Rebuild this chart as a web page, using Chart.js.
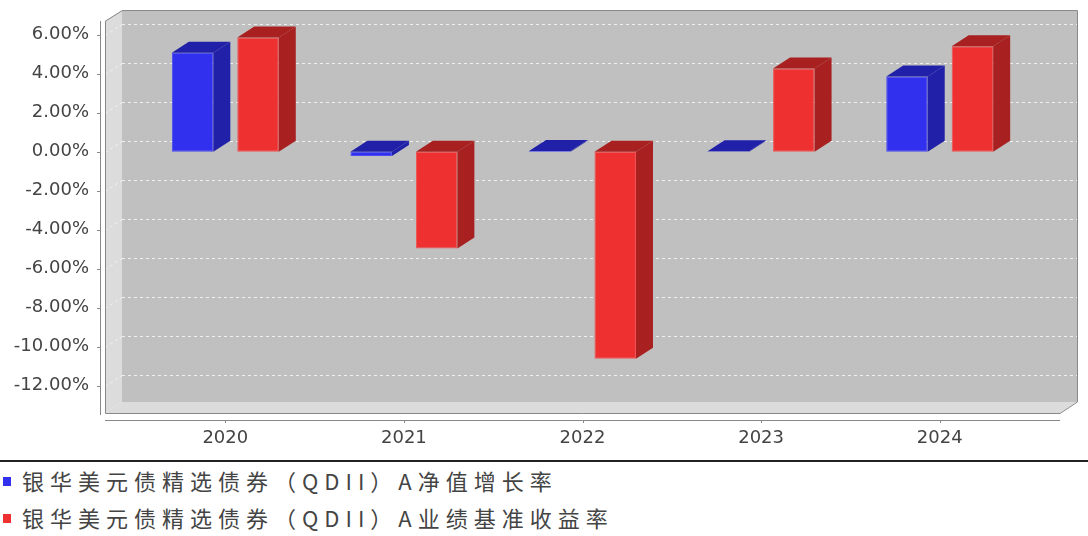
<!DOCTYPE html>
<html>
<head>
<meta charset="utf-8">
<script src="https://cdn.jsdelivr.net/npm/chart.js@4.4.1/dist/chart.umd.min.js"></script>
<style>
  body { margin: 0; background: #fff; width: 1088px; height: 536px; overflow: hidden; }
  #legend { border-top: 2px solid #222; font-family: "Noto Sans CJK SC", sans-serif; font-size: 22px; letter-spacing: 6px; color: #444; }
  .item { position: relative; height: 37px; line-height: 36px; padding-left: 22px; white-space: nowrap; }
  .item span { position: absolute; left: 3px; top: 15px; width: 8px; height: 9px; }
</style>
</head>
<body>
<canvas id="myChart" width="1088" height="460"></canvas>
<div id="legend"></div>
<script>
const categories = ['2020', '2021', '2022', '2023', '2024'];
const navGrowth = [5.07, -0.22, 0.03, 0.02, 3.86];
const benchmark = [5.86, -4.97, -10.62, 4.26, 5.40];
const seriesNames = ['银华美元债精选债券（QDII）A净值增长率', '银华美元债精选债券（QDII）A业绩基准收益率'];
const yTicks = [-12, -10, -8, -6, -4, -2, 0, 2, 4, 6];

const frontColors = ['#3030ee', '#ee3030'];
const sideColors = ['#2020a8', '#a82020'];

// 3d look: depth offset and the category margin outside the bar area
const DX = 17, DY = 11, MARGIN = 31;

function poly(ctx, pts, fill, stroke) {
    ctx.beginPath();
    ctx.moveTo(pts[0][0], pts[0][1]);
    for (let i = 1; i < pts.length; i++) ctx.lineTo(pts[i][0], pts[i][1]);
    ctx.closePath();
    if (fill) { ctx.fillStyle = fill; ctx.fill(); }
    if (stroke) { ctx.strokeStyle = stroke; ctx.stroke(); }
}

const box3d = {
    id: 'box3d',
    beforeDatasetsDraw(chart) {
        const ctx = chart.ctx, a = chart.chartArea, y = chart.scales.y, x = chart.scales.x;
        const L = a.left - MARGIN, R = a.right + MARGIN, T = a.top, B = a.bottom;
        ctx.save();
        ctx.lineWidth = 1;
        // walls
        ctx.fillStyle = '#c0c0c0';
        ctx.fillRect(L + DX, T - DY, R - L, B - T);
        poly(ctx, [[L, T], [L + DX, T - DY], [L + DX, B - DY], [L, B]], '#dcdcdc');
        poly(ctx, [[L, B], [L + DX, B - DY], [R + DX, B - DY], [R, B]], '#dcdcdc');

        // dashed grid on back wall and left wall
        ctx.setLineDash([3, 3]);
        y.ticks.forEach(t => {
            const py = Math.round(y.getPixelForValue(t.value) - DY) + 0.5;
            ctx.strokeStyle = '#efefef';
            ctx.beginPath();
            ctx.moveTo(L + DX, py);
            ctx.lineTo(R + DX, py);
            ctx.stroke();
            ctx.strokeStyle = 'rgba(255,255,255,0.6)';
            ctx.beginPath();
            ctx.moveTo(L, py + DY);
            ctx.lineTo(L + DX, py);
            ctx.stroke();
        });
        ctx.setLineDash([]);

        // outline of the box
        poly(ctx, [[L + 0.5, T], [L + DX + 0.5, T - DY + 0.5], [R + DX + 0.5, T - DY + 0.5],
                   [R + DX + 0.5, B - DY], [R, B + 0.5], [L + 0.5, B + 0.5]], null, '#888');

        // axes
        ctx.strokeStyle = '#888';
        ctx.beginPath();
        ctx.moveTo(L - 4.5, T);
        ctx.lineTo(L - 4.5, B + 2);
        y.ticks.forEach(t => {
            const py = Math.round(y.getPixelForValue(t.value)) + 0.5;
            ctx.moveTo(L - 8, py);
            ctx.lineTo(L - 4.5, py);
        });
        ctx.moveTo(L, B + 7.5);
        ctx.lineTo(R, B + 7.5);
        categories.forEach((c, i) => {
            const px = Math.round(x.getPixelForValue(i)) + 0.5;
            ctx.moveTo(px, B + 7.5);
            ctx.lineTo(px, B + 10);
        });
        ctx.stroke();
        ctx.restore();
    },
    afterDatasetsDraw(chart) {
        const ctx = chart.ctx;
        ctx.save();
        ctx.lineWidth = 1;
        chart.data.datasets.forEach((ds, i) => {
            chart.getDatasetMeta(i).data.forEach(bar => {
                const p = bar.getProps(['x', 'y', 'base', 'width'], true);
                const x1 = p.x - p.width / 2, x2 = p.x + p.width / 2;
                const top = Math.min(p.y, p.base), bot = Math.max(p.y, p.base);
                poly(ctx, [[x1, top], [x1 + DX, top - DY], [x2 + DX, top - DY], [x2, top]], sideColors[i]);
                poly(ctx, [[x2, top], [x2 + DX, top - DY], [x2 + DX, bot - DY], [x2, bot]], sideColors[i]);
            });
        });
        ctx.restore();
    }
};

const tickFont = { family: 'DejaVu Sans', size: 18 };

new Chart(document.getElementById('myChart'), {
    type: 'bar',
    data: {
        labels: categories,
        datasets: [{
            label: seriesNames[0],
            data: navGrowth,
            backgroundColor: frontColors[0],
            borderColor: '#4a4af2',
            borderWidth: 1,
            borderSkipped: false
        }, {
            label: seriesNames[1],
            data: benchmark,
            backgroundColor: frontColors[1],
            borderColor: '#f25050',
            borderWidth: 1,
            borderSkipped: false
        }]
    },
    options: {
        responsive: false,
        animation: false,
        layout: { padding: { top: 21, right: 59, left: 0, bottom: 0 } },
        datasets: { bar: { categoryPercentage: 0.733, barPercentage: 0.634 } },
        plugins: { legend: { display: false }, tooltip: { enabled: false } },
        scales: {
            x: {
                grid: { display: false, drawTicks: false },
                border: { display: false },
                ticks: { padding: 15, color: '#444', font: tickFont },
                afterFit: s => { s.height = 47; }
            },
            y: {
                min: -13.4,
                max: 6.7,
                afterBuildTicks: s => { s.ticks = yTicks.map(v => ({ value: v })); },
                // hidden tick marks of 40px keep labels away from the box without extra top padding
                grid: { display: false, drawTicks: true, tickLength: 40 },
                border: { display: false },
                ticks: {
                    padding: 7, color: '#444', font: tickFont,
                    callback: v => v.toFixed(2) + '%'
                },
                afterFit: s => { s.width = 136; }
            }
        }
    },
    plugins: [box3d]
});

const legend = document.getElementById('legend');
seriesNames.forEach((name, i) => {
    const row = document.createElement('div');
    row.className = 'item';
    row.innerHTML = '<span style="background:' + frontColors[i] + '"></span>' + name;
    legend.appendChild(row);
});
</script>
</body>
</html>
